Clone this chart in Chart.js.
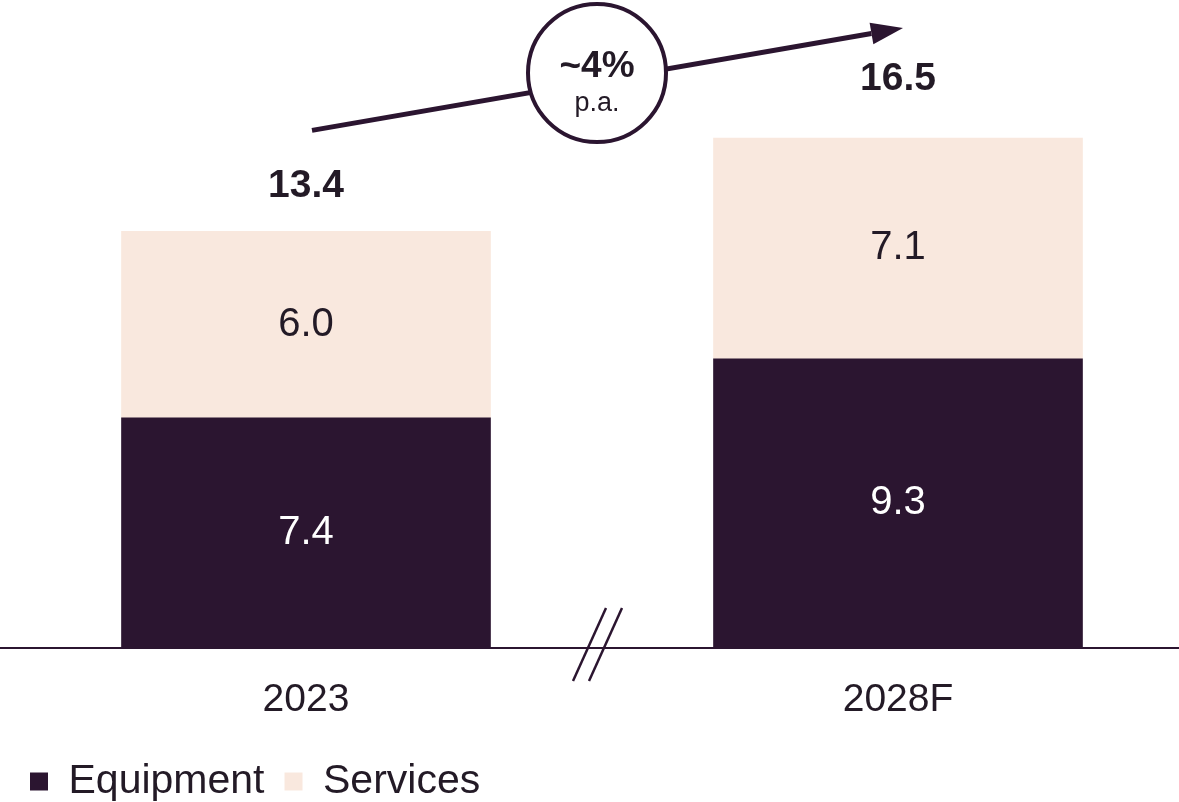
<!DOCTYPE html>
<html>
<head>
<meta charset="utf-8">
<script src="https://cdn.jsdelivr.net/npm/chart.js@4.4.1/dist/chart.umd.min.js"></script>
<style>
  html, body { margin: 0; padding: 0; background: #fff; overflow: hidden; }
  #wrap { width: 1194px; height: 802px; }
</style>
</head>
<body>
<div id="wrap"><canvas id="marketChart"></canvas></div>
<script>
const years = ['2023', '2028F'];
const equipment = [7.4, 9.3];
const services = [6.0, 7.1];
const totals = [13.4, 16.5];
const growthText = '~4%';
const growthSub = 'p.a.';

const dark = '#2b1530';
const light = '#f9e8de';
const ink = '#231a26';
const font = "'Liberation Sans', Arial, sans-serif";

// value labels, totals, growth arrow, axis break
const decorPlugin = {
  id: 'decor',
  afterDatasetsDraw(chart) {
    const ctx = chart.ctx;
    const area = chart.chartArea;
    const eq = chart.getDatasetMeta(0).data;
    const sv = chart.getDatasetMeta(1).data;
    ctx.save();

    // baseline across full width
    ctx.strokeStyle = dark;
    ctx.lineWidth = 2;
    ctx.beginPath();
    ctx.moveTo(0, area.bottom);
    ctx.lineTo(chart.width, area.bottom);
    ctx.stroke();

    // break marks
    const xm = (eq[0].x + eq[1].x) / 2;
    ctx.lineWidth = 2.5;
    [-13, 3].forEach(dx => {
      ctx.beginPath();
      ctx.moveTo(xm + dx - 16, area.bottom + 33);
      ctx.lineTo(xm + dx + 17, area.bottom - 40);
      ctx.stroke();
    });

    // segment labels
    ctx.textAlign = 'center';
    ctx.textBaseline = 'middle';
    ctx.font = '40px ' + font;
    chart.data.datasets.forEach((ds, di) => {
      chart.getDatasetMeta(di).data.forEach((bar, i) => {
        ctx.fillStyle = di === 0 ? '#ffffff' : ink;
        ctx.fillText(ds.data[i].toFixed(1), bar.x, (bar.y + bar.base) / 2);
      });
    });

    // totals
    const gap = [45, 59];
    ctx.font = 'bold 39px ' + font;
    ctx.fillStyle = ink;
    sv.forEach((bar, i) => {
      ctx.fillText(totals[i].toFixed(1), bar.x, bar.y - gap[i]);
    });

    // growth arrow
    const x0 = eq[0].x + 6, y0 = sv[0].y - 101;
    const x1 = eq[1].x + 5, y1 = sv[1].y - 110;
    const ang = Math.atan2(y1 - y0, x1 - x0);
    const head = 32;
    ctx.strokeStyle = dark;
    ctx.fillStyle = dark;
    ctx.lineWidth = 5;
    ctx.beginPath();
    ctx.moveTo(x0, y0);
    ctx.lineTo(x1 - head * Math.cos(ang), y1 - head * Math.sin(ang));
    ctx.stroke();
    ctx.beginPath();
    ctx.moveTo(x1, y1);
    ctx.lineTo(x1 - head * Math.cos(ang) + 11 * Math.sin(ang), y1 - head * Math.sin(ang) - 11 * Math.cos(ang));
    ctx.lineTo(x1 - head * Math.cos(ang) - 11 * Math.sin(ang), y1 - head * Math.sin(ang) + 11 * Math.cos(ang));
    ctx.closePath();
    ctx.fill();

    // growth bubble
    const cx = xm - 5, cy = 73;
    ctx.beginPath();
    ctx.arc(cx, cy, 69, 0, Math.PI * 2);
    ctx.fillStyle = '#ffffff';
    ctx.fill();
    ctx.lineWidth = 4;
    ctx.stroke();
    ctx.fillStyle = ink;
    ctx.font = 'bold 37px ' + font;
    ctx.fillText(growthText, cx, cy - 6);
    ctx.font = '27px ' + font;
    ctx.fillText(growthSub, cx, cy + 31);

    ctx.restore();
  }
};

new Chart(document.getElementById('marketChart'), {
  type: 'bar',
  data: {
    labels: years,
    datasets: [{
      label: 'Equipment',
      data: equipment,
      backgroundColor: dark,
      borderWidth: 0,
      barThickness: 369
    }, {
      label: 'Services',
      data: services,
      backgroundColor: light,
      borderWidth: 0,
      barThickness: 369
    }]
  },
  options: {
    responsive: true,
    maintainAspectRatio: false,
    animation: false,
    layout: { padding: { left: 10, right: 0, top: 0, bottom: -10 } },
    plugins: {
      tooltip: { enabled: false },
      legend: {
        position: 'bottom',
        align: 'start',
        labels: {
          boxWidth: 18,
          boxHeight: 18,
          padding: 20,
          color: ink,
          font: { family: font, size: 41 }
        }
      }
    },
    scales: {
      x: {
        stacked: true,
        grid: { display: false, drawTicks: false },
        border: { display: false },
        ticks: { color: ink, padding: 29, font: { family: font, size: 39 } },
        afterFit: (scale) => { scale.height = 93; }
      },
      y: {
        stacked: true,
        display: false,
        min: 0,
        max: 20.84
      }
    }
  },
  plugins: [decorPlugin]
});
</script>
</body>
</html>
